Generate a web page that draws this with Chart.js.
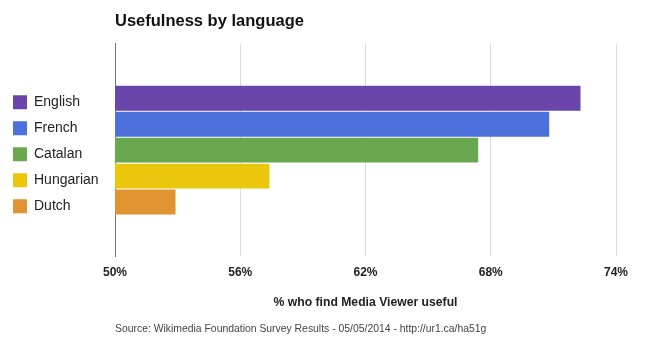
<!DOCTYPE html>
<html lang="en">
<head>
    <meta charset="UTF-8">
    <title>Usefulness by language</title>
    <script src="https://cdn.jsdelivr.net/npm/chart.js"></script>
    <style>
        html, body { margin: 0; padding: 0; background: #fff; }
        .container { width: 650px; height: 337px; }
    </style>
</head>
<body>
    <div class="container">
        <canvas id="langChart" width="650" height="337"></canvas>
    </div>
    <script>
        // values
        const languages = ['English', 'French', 'Catalan', 'Hungarian', 'Dutch'];
        const usefulPct = [72.3, 70.8, 67.4, 57.4, 52.9];
        const barColors = ['#6a46aa', '#4c70dc', '#6aa84f', '#eac70c', '#e09431'];
        const xTicks = [50, 56, 62, 68, 74];

        const font = "'Liberation Sans', Arial, sans-serif";

        const datasets = languages.map((lang, i) => ({
            label: lang,
            data: [usefulPct[i]],
            backgroundColor: barColors[i],
            borderColor: barColors[i],
            borderWidth: 0,
            barPercentage: 0.96,
            categoryPercentage: 0.61
        }));

        const ctx = document.getElementById('langChart').getContext('2d');
        const chart = new Chart(ctx, {
            type: 'bar',
            data: { labels: [''], datasets: datasets },
            options: {
                indexAxis: 'y',
                responsive: false,
                animation: false,
                layout: { padding: { left: 1, right: 34, top: 0, bottom: 0 } },
                plugins: {
                    tooltip: { enabled: false },
                    title: {
                        display: true,
                        text: 'Usefulness by language',
                        align: 'start',
                        fullSize: false,
                        color: '#111',
                        font: { family: font, size: 16.5, weight: 'bold' },
                        padding: { top: 12, bottom: 12 }
                    },
                    subtitle: {
                        display: true,
                        text: 'Source: Wikimedia Foundation Survey Results - 05/05/2014 - http://ur1.ca/ha51g',
                        position: 'bottom',
                        align: 'start',
                        fullSize: false,
                        color: '#444',
                        font: { family: font, size: 10.4 },
                        padding: { top: 8, bottom: 2 }
                    },
                    legend: {
                        position: 'left',
                        fullSize: false,
                        // empty title just nudges the items down a few px
                        title: { display: true, text: ' ', font: { size: 5 }, padding: 1 },
                        labels: {
                            boxWidth: 14,
                            boxHeight: 14,
                            padding: 12,
                            color: '#222',
                            font: { family: font, size: 14 }
                        }
                    }
                },
                scales: {
                    x: {
                        min: xTicks[0],
                        max: xTicks[xTicks.length - 1],
                        afterBuildTicks: (s) => { s.ticks = xTicks.map(v => ({ value: v })); },
                        grid: { color: '#dcdcdc', drawTicks: false },
                        border: { display: false },
                        ticks: {
                            padding: 9,
                            color: '#222',
                            font: { family: font, size: 12, weight: 'bold' },
                            callback: (v) => v + '%'
                        },
                        title: {
                            display: true,
                            text: '% who find Media Viewer useful',
                            color: '#222',
                            font: { family: font, size: 12.2, weight: 'bold' },
                            padding: { top: 6, bottom: 5 }
                        }
                    },
                    y: {
                        grid: { display: false },
                        border: { display: true, color: '#777', width: 1 },
                        ticks: { display: false },
                        afterFit: (s) => { s.width = Math.max(0, 114 - s.chart.legend.width); }
                    }
                }
            }
        });
    </script>
</body>
</html>
